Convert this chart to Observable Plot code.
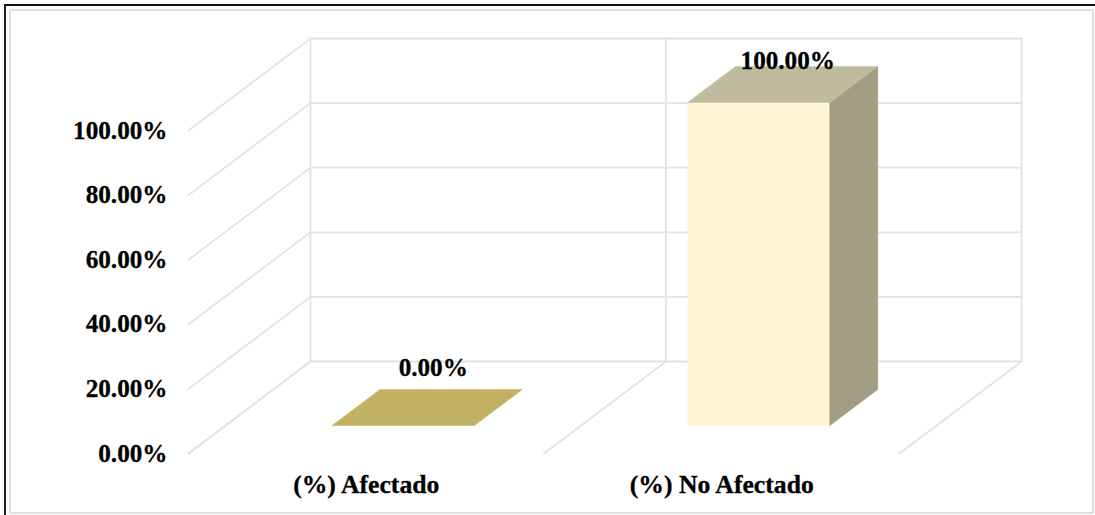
<!DOCTYPE html>
<html>
<head>
<meta charset="utf-8">
<script src="https://cdn.jsdelivr.net/npm/d3@7"></script>
<script src="https://cdn.jsdelivr.net/npm/@observablehq/plot@0.6"></script>
<style>
  html, body { margin: 0; padding: 0; background: #fff; }
  #chart { position: relative; width: 1095px; height: 515px; overflow: hidden; }
  #chart svg { display: block; }
  #outer { position: absolute; left: 4px; top: 4px; right: 0; bottom: 0; border-left: 2px solid #222; border-top: 2px solid #111; pointer-events: none; }
  #inner { position: absolute; left: 9px; top: 9px; width: 1081px; height: 501px; border: 2px solid #e0e0e0; pointer-events: none; }
</style>
</head>
<body>
<div id="chart"><div id="outer"></div><div id="inner"></div></div>
<script>
// Survey result: share of cases by condition
const categories = ["(%) Afectado", "(%) No Afectado"];
const shares = [0, 100];
const tickValues = [0, 20, 40, 60, 80, 100];

// Oblique projection: one unit of depth shifts a point along both axes
const DEPTH_X = 122 / 355.5;
const DEPTH_Y = 100 * 92 / 323;
const project = (cat, value, depth) => ({x: cat + depth * DEPTH_X, y: value + depth * DEPTH_Y});

// Bar footprint inside its category slot, as Excel draws a 150% gap
const barWidth = 0.4;
const depthFront = 0.304;
const depthBack = 0.696;

const face = (cat, points, fill) =>
  Plot.line(points.map(([c, v, d]) => project(cat + c, v, d)), {
    x: "x", y: "y", fill, stroke: fill, strokeWidth: 0.5, curve: "linear-closed"
  });

const segment = (a, b) => [project(...a), project(...b)];
const gridStroke = {x: "x", y: "y", stroke: "#e2e2e2", strokeWidth: 1.8};

const gridMarks = [
  // Side wall and back wall rules at every tick
  ...tickValues.map(t => Plot.line(segment([0, t, 0], [0, t, 1]), gridStroke)),
  ...tickValues.map(t => Plot.line(segment([0, t, 1], [categories.length, t, 1]), gridStroke)),
  // Category boundaries on the floor and up the back wall
  ...d3.range(categories.length + 1).flatMap(c => [
    Plot.line(segment([c, 0, 0], [c, 0, 1]), gridStroke),
    Plot.line(segment([c, 0, 1], [c, 100, 1]), gridStroke)
  ])
];

const barMarks = shares.flatMap((v, i) => {
  const l = 0.5 - barWidth / 2, r = 0.5 + barWidth / 2;
  const top = [[l, v, depthFront], [r, v, depthFront], [r, v, depthBack], [l, v, depthBack]];
  if (v === 0) return [face(i, top, "#c2b063")];
  return [
    face(i, [[l, 0, depthFront], [r, 0, depthFront], [r, v, depthFront], [l, v, depthFront]], "#fff5d4"),
    face(i, [[r, 0, depthFront], [r, 0, depthBack], [r, v, depthBack], [r, v, depthFront]], "#a39d83"),
    face(i, top, "#c0ba9e")
  ];
});

const textStyle = {fontFamily: "Liberation Serif", fontWeight: "bold", fontSize: 25.2, fill: "#000", stroke: "#000", strokeWidth: 0.3};
const valueLabel = (i, dx, dy) => Plot.text([shares[i]], {
  x: () => project(i + 0.5, shares[i], 0.5).x,
  y: () => project(i + 0.5, shares[i], 0.5).y,
  text: d => d.toFixed(2) + "%",
  dx, dy, ...textStyle
});

const plot = Plot.plot({
  width: 1095,
  height: 515,
  marginLeft: 188,
  marginRight: 74,
  marginTop: 38,
  marginBottom: 62,
  style: {background: "transparent", overflow: "visible"},
  x: {type: "linear", domain: [0, categories.length + DEPTH_X], axis: null},
  y: {domain: [0, 100 + DEPTH_Y], axis: null},
  marks: [
    ...gridMarks,
    ...barMarks,
    // Value axis along the front edge of the side wall
    Plot.text(tickValues, {
      x: () => 0, y: d => d, text: d => d.toFixed(2) + "%",
      textAnchor: "end", dx: -21, ...textStyle
    }),
    // Category names below the floor
    Plot.text(categories, {
      x: (d, i) => i + 0.5, y: () => 0, text: d => d,
      dy: 31, dx: 0, ...textStyle, fontSize: 25.7
    }),
    valueLabel(0, 6, -40),
    valueLabel(1, 5, -24)
  ]
});
document.getElementById("chart").prepend(plot);
</script>
</body>
</html>
